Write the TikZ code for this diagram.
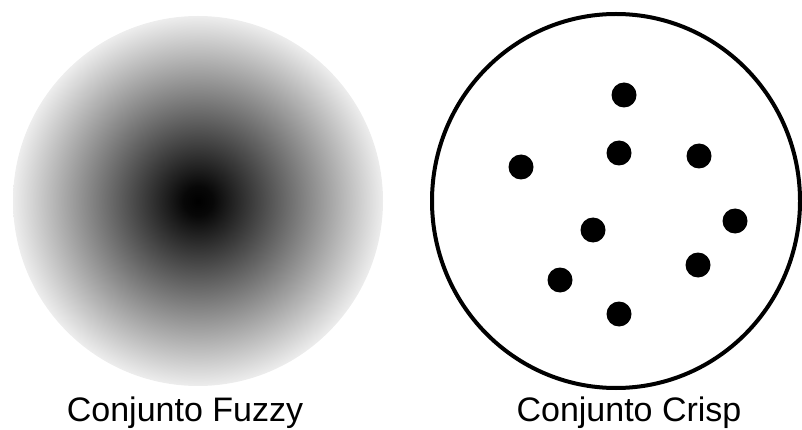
\documentclass[tikz,border=0pt]{standalone}
\usepackage{fontspec}
\setmainfont{Liberation Sans}
\pgfdeclareradialshading{fuzzyshade}{\pgfpoint{0bp}{0bp}}{%
  color(0bp)=(black);
  color(2bp)=(black!97);
  color(25bp)=(black!7);
  color(50bp)=(black!7)}
\tikzset{
  dot/.style={circle, fill=black, inner sep=0pt, minimum size=25pt},
  caption/.style={font=\fontsize{34}{40}\selectfont, anchor=base, inner sep=0pt},
}
\begin{document}
\begin{tikzpicture}[x=1pt, y=-1pt]
  \useasboundingbox (0,0) rectangle (802,430);
  % fuzzy set
  \shade[shading=fuzzyshade] (198,201) circle[radius=185];
  \node[caption] (lf) at (185,421) {Conjunto Fuzzy};
  % crisp set
  \draw[line width=4pt] (616,201) ellipse[x radius=184, y radius=187];
  \node[dot] (d1) at (624,95) {};
  \node[dot] (d2) at (521,167) {};
  \node[dot] (d3) at (619,153) {};
  \node[dot] (d4) at (699,156) {};
  \node[dot] (d5) at (735,221) {};
  \node[dot] (d6) at (593,230) {};
  \node[dot] (d7) at (560,280) {};
  \node[dot] (d8) at (698,265) {};
  \node[dot] (d9) at (619,314) {};
  \node[caption] (lc) at (629,421) {Conjunto Crisp};
\end{tikzpicture}
\end{document}
